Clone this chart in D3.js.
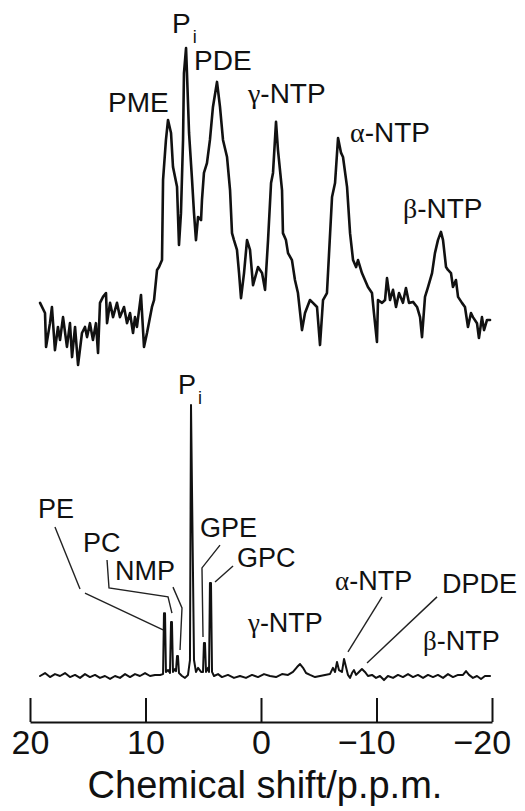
<!DOCTYPE html>
<html>
<head>
<meta charset="utf-8">
<script src="https://cdn.jsdelivr.net/npm/d3@7"></script>
<style>
body{margin:0;background:#fff;}
.spectrum{fill:none;stroke:#111;stroke-linejoin:round;stroke-linecap:round;}
.label{font-family:"Liberation Sans",Arial,Helvetica,sans-serif;fill:#111;}
.greek{font-family:"Liberation Serif","Times New Roman",serif;}
.leader{fill:none;stroke:#222;stroke-width:1.4;}
</style>
</head>
<body>
<script>
// chemical shift (ppm) and intensity of the upper (in vivo) spectrum
var topShift = [19.13,18.70,18.61,18.27,18.10,17.84,17.58,17.40,17.14,16.80,16.54,16.36,16.10,15.84,15.50,15.24,15.06,14.81,14.55,14.29,
    14.11,13.94,13.68,13.42,13.33,13.07,12.81,12.47,12.21,11.86,11.60,11.34,11.08,10.91,10.74,10.39,10.13,9.87,9.44,9.26,
    9.00,8.83,8.57,8.48,8.23,8.05,7.79,7.62,7.27,7.10,6.93,6.75,6.67,6.49,6.41,6.23,5.97,5.80,5.63,5.45,
    5.19,5.11,4.94,4.68,4.42,4.16,3.81,3.55,3.29,2.94,2.68,2.51,2.34,2.08,1.90,1.73,1.47,1.21,0.95,0.69,
    0.26,-0.09,-0.35,-0.61,-0.87,-1.04,-1.30,-1.47,-1.82,-1.90,-2.16,-2.34,-2.68,-2.94,-3.20,-3.55,-3.81,-4.24,-4.50,-4.85,
    -5.11,-5.37,-5.71,-6.15,-6.41,-6.67,-6.93,-7.10,-7.45,-7.71,-7.97,-8.23,-8.40,-8.74,-9.00,-9.26,-9.61,-9.78,-10.04,-10.13,
    -10.48,-10.74,-10.91,-11.17,-11.43,-11.69,-11.95,-12.29,-12.55,-12.81,-13.16,-13.51,-13.77,-13.94,-14.20,-14.46,-14.81,-15.06,-15.32,-15.58,
    -15.76,-16.02,-16.19,-16.45,-16.62,-16.88,-17.06,-17.40,-17.66,-17.92,-18.18,-18.35,-18.70,-18.87,-19.13,-19.31,-19.57,-19.83];
var topIntensity = [19.6,16.4,5.7,13.2,18.3,4.7,12.0,7.9,15.1,5.7,13.2,2.5,12.0,0,10.1,12.0,8.8,13.2,7.9,13.2,
    3.8,19.6,21.5,22.7,13.2,19.6,15.1,19.6,15.1,18.3,13.2,16.4,10.1,15.1,12.0,22.1,5.7,10.1,18.3,20.5,
    30.0,30.9,33.1,58.4,71.0,77.3,73.2,62.5,56.2,37.9,47.9,71.0,92.1,100,92.1,73.2,58.4,47.9,39.4,46.7,
    45.7,52.1,60.6,63.7,71.0,81.4,89.3,81.4,71.0,65.6,55.2,41.6,39.4,36.3,29.0,21.1,29.0,39.4,36.3,25.2,
    30.9,29.0,23.7,39.4,57.4,60.6,76.7,67.8,55.2,41.6,39.4,35.3,33.1,26.8,22.7,11.0,16.4,20.5,19.6,18.3,
    6.3,20.5,22.7,53.0,57.4,71.6,66.9,65.6,56.2,41.6,33.1,30.9,33.1,29.0,26.8,24.6,22.7,16.4,7.3,20.5,
    19.6,20.5,27.4,20.5,23.7,18.3,22.7,19.6,24.3,19.6,19.9,18.3,15.1,8.8,21.5,24.6,29.0,35.3,39.4,42.0,
    39.4,30.9,30.0,29.0,24.6,26.8,21.5,19.6,18.3,12.0,16.4,15.1,13.2,8.5,15.1,11.0,14.2,14.2];

// chemical shift (ppm) and intensity of the lower (extract) spectrum
var bottomShift = [19.13,18.70,18.27,17.84,17.40,16.97,16.54,16.10,15.67,15.24,14.81,14.37,13.94,13.51,13.07,12.64,12.21,11.77,11.34,10.91,
    10.48,10.04,9.61,9.18,8.74,8.48,8.40,8.31,8.23,8.05,7.88,7.79,7.71,7.62,7.45,7.36,7.27,7.19,7.10,6.84,
    6.58,6.32,6.15,6.06,5.80,5.63,5.45,5.19,5.02,4.94,4.85,4.76,4.59,4.50,4.42,4.33,4.24,4.07,3.72,3.38,
    2.86,2.34,1.82,1.30,0.78,0.26,-0.26,-0.78,-1.30,-1.82,-2.34,-2.77,-3.12,-3.38,-3.64,-3.90,-4.24,-4.68,-5.11,-5.54,
    -5.97,-6.23,-6.41,-6.58,-6.75,-7.01,-7.19,-7.36,-7.53,-7.71,-7.88,-8.05,-8.23,-8.48,-8.74,-9.00,-9.26,-9.61,-9.96,-10.30,
    -10.65,-10.99,-11.43,-11.86,-12.29,-12.73,-13.16,-13.59,-14.03,-14.46,-14.89,-15.32,-15.76,-16.19,-16.62,-17.06,-17.49,-17.75,-18.01,-18.35,
    -18.70,-19.05,-19.39,-19.83];
var bottomIntensity = [0,1.1,-0.4,0.7,0,1.1,-0.4,0.4,-0.7,0.7,-0.4,0.4,-0.7,0,-1.1,0,-0.7,0.7,-0.4,0.7,
    0,1.1,0,0.4,0.4,0.7,23.2,23.2,1.5,2.2,1.1,19.9,19.9,1.5,2.6,1.8,7.4,7.4,1.1,0,
    -0.7,0.4,5.9,100,5.9,1.5,3.0,1.5,1.5,12.2,12.2,1.5,3.0,1.5,34.3,34.3,1.5,0,0.7,-0.4,
    0.4,-0.7,0,-0.7,0.4,-0.4,0.7,0,-0.4,0.7,0.4,1.5,3.3,4.4,3.0,1.1,0.4,-0.4,0,0.4,
    0.7,3.0,1.5,5.2,2.2,1.5,6.3,3.3,0.4,-0.7,1.1,2.2,0.4,1.5,2.6,1.5,0,0.4,-0.7,0,
    -1.5,0,-0.7,0.4,-0.4,0.7,-0.4,0.4,-0.7,0.4,-0.4,0.4,-0.7,0.7,-0.4,0.4,0.4,1.8,0.4,-0.7,
    0,-1.1,0,0];

// peak labels, anchored in ppm / intensity units ("_" marks a subscript)
var topLabelText = ["P_i", "PDE", "PME", "γ-NTP", "α-NTP", "β-NTP"];
var topLabelShift = [7.71, 5.80, 13.25, 1.13, -7.71, -12.29];
var topLabelLevel = [104.7, 93.1, 79.8, 82.6, 70.3, 46.4];

var bottomLabelText = ["P_i", "PE", "PC", "NMP", "GPE", "GPC", "γ-NTP", "α-NTP", "DPDE", "β-NTP"];
var bottomLabelShift = [7.19, 19.31, 15.41, 12.64, 5.28, 2.08, 1.13, -6.41, -15.67, -14.03];
var bottomLabelLevel = [104.1, 58.3, 45.8, 35.4, 51.3, 40.2, 16.2, 31.7, 30.6, 9.6];

// leader lines from labels to the small peaks of the lower spectrum
var leaderLines = [
    [[17.84, 55.0], [15.67, 32.1]],
    [[15.24, 30.6], [8.48, 17.0]],
    [[13.33, 42.8], [13.16, 32.5], [8.05, 29.2], [7.71, 23.2]],
    [[7.62, 32.8], [6.84, 25.1], [7.01, 9.6]],
    [[3.55, 48.3], [5.11, 39.9], [5.02, 14.4]],
    [[2.42, 40.6], [3.98, 34.7]],
    [[-10.48, 29.2], [-7.53, 8.9]],
    [[-15.24, 29.2], [-9.18, 4.8]]
];

var tickValues = [20, 10, 0, -10, -20];
var axisTitle = "Chemical shift/p.p.m.";

window.onload = drawChart();

function drawChart(){
    var width = 525,
        height = 811;

    var svg = d3.select("body")
        .append("svg")
        .attr("width", width)
        .attr("height", height);

    // ppm runs right to left
    var x = d3.scaleLinear().domain([20, -20]).range([30, 492]);
    var yTop = d3.scaleLinear().domain([0, 100]).range([365, 48]);
    var yBottom = d3.scaleLinear().domain([0, 100]).range([676, 405]);

    var topLine = d3.line()
        .x(function(d){ return x(d[0]); })
        .y(function(d){ return yTop(d[1]); });

    var bottomLine = d3.line()
        .x(function(d){ return x(d[0]); })
        .y(function(d){ return yBottom(d[1]); });

    svg.append("path")
        .datum(d3.zip(topShift, topIntensity))
        .attr("class", "spectrum")
        .attr("stroke-width", 2.6)
        .attr("d", topLine);

    svg.append("path")
        .datum(d3.zip(bottomShift, bottomIntensity))
        .attr("class", "spectrum")
        .attr("stroke-width", 2)
        .attr("d", bottomLine);

    // leaders
    svg.selectAll(".leader")
        .data(leaderLines)
        .enter()
        .append("path")
        .attr("class", "leader")
        .attr("d", bottomLine);

    addLabels(svg, topLabelText, topLabelShift, topLabelLevel, x, yTop, 28);
    addLabels(svg, bottomLabelText, bottomLabelShift, bottomLabelLevel, x, yBottom, 27);

    // axis with ticks pointing up
    var axis = d3.axisBottom(x)
        .tickValues(tickValues)
        .tickSizeInner(-24)
        .tickSizeOuter(0)
        .tickPadding(8)
        .tickFormat(function(d){ return d < 0 ? "\u2212" + Math.abs(d) : d; });

    var gx = svg.append("g")
        .attr("transform", "translate(0,722)")
        .call(axis);

    gx.selectAll("path, line")
        .attr("stroke", "#111")
        .attr("stroke-width", 2);

    gx.selectAll("text")
        .attr("class", "label")
        .attr("font-size", 34)
        .attr("dx", function(d){ return d < 0 ? "-0.3em" : 0; });

    svg.append("text")
        .attr("class", "label")
        .attr("x", (x.range()[0] + x.range()[1]) / 2 + 4)
        .attr("y", 798)
        .attr("text-anchor", "middle")
        .attr("font-size", 38)
        .text(axisTitle);
};

function addLabels(svg, texts, shifts, levels, x, y, size){
    texts.forEach(function(t, i){
        var label = svg.append("text")
            .attr("class", "label")
            .attr("x", x(shifts[i]))
            .attr("y", y(levels[i]))
            .attr("font-size", size);

        var parts = t.split("_");
        var main = parts[0];
        // greek prefix in a serif face like the original
        if (/^[αβγ]/.test(main)){
            label.append("tspan").attr("class", "greek").text(main[0]);
            label.append("tspan").text(main.slice(1));
        } else {
            label.append("tspan").text(main);
        }
        if (parts.length > 1){
            label.append("tspan")
                .attr("font-size", 18)
                .attr("dx", 2)
                .attr("dy", 10)
                .text(parts[1]);
        }
    });
};
</script>
</body>
</html>
